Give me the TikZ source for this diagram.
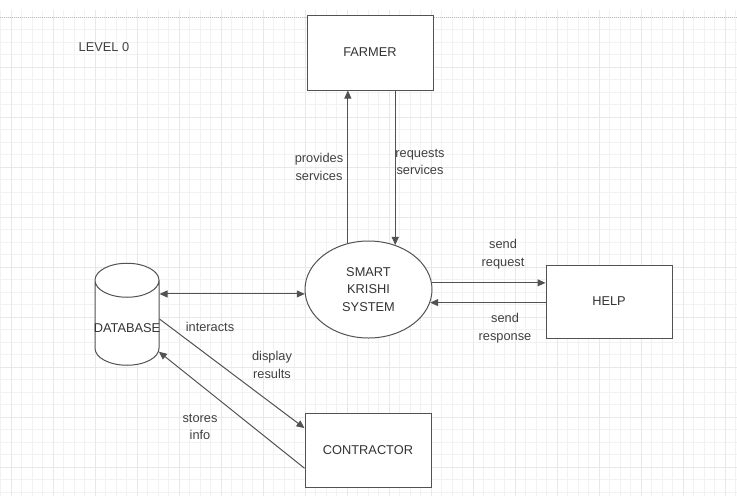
\documentclass[tikz,border=0pt]{standalone}
\usepackage{fontspec}
\setmainfont{Liberation Sans}
\usetikzlibrary{shapes.geometric,arrows.meta}
\tikzset{
	entity/.style={draw=black!68,line width=1pt,fill=white,minimum width=126pt,minimum height=74pt,text=black!80},
	flow/.style={draw=black!68,line width=1pt},
	lbl/.style={align=center,text=black!75,inner sep=0pt},
	>={Triangle[length=8pt,width=7pt]}
}
\begin{document}
\begin{tikzpicture}[x=1pt,y=-1pt,font=\fontsize{12.8}{17.5}\selectfont]
\useasboundingbox (0,0) rectangle (737,496);
\fill[white] (0,0) rectangle (737,496);
\foreach \x in {0,...,70}
	\draw[black!5] (0.5+\x*10.5, 10) -- (0.5+\x*10.5, 496);
\foreach \y in {0,...,38}
	\draw[black!5] (0, 17+\y*12.5) -- (737, 17+\y*12.5);
\foreach \x in {0,...,17}
	\draw[black!9] (11+\x*42, 10) -- (11+\x*42, 496);
\foreach \y in {1,...,9}
	\draw[black!9] (0, 17+\y*50) -- (737, 17+\y*50);
\draw[black!25,densely dotted,line width=1pt] (0,17) -- (737,17);
\node[lbl] (level) at (104,47) {LEVEL 0};
\node[entity,minimum height=75pt] (farmer) at (370,52.5) {FARMER};
\node[ellipse,draw=black!68,line width=1pt,fill=white,minimum width=127pt,minimum height=97pt,align=center,text=black!80] (ks) at (368.5,289.5) {SMART\\KRISHI\\SYSTEM};
\node[entity,minimum height=73pt] (help) at (609,301.5) {HELP};
\node[entity] (contractor) at (368,450) {CONTRACTOR};
\node[cylinder,shape border rotate=90,aspect=0.85,draw=black!68,line width=1pt,fill=white,minimum width=64pt,minimum height=102pt,inner sep=0pt,text=black!80] (db) at (127,323) {\makebox[40pt]{\raisebox{-9pt}[0pt][0pt]{DATABASE}}};
\draw[flow,->] (ks.114) -- (ks.114 |- farmer.south);
\draw[flow,->] (ks.59 |- farmer.south) -- (ks.59);
\draw[flow,<->] (db.east |- ks.184) -- (ks.184);
\draw[flow,->] (db.7) -- (contractor.161);
\draw[flow,->] (contractor.196) -- (db.-42);
\draw[flow,->] (ks.6) -- (ks.6 -| help.west);
\draw[flow,->] (help.west |- ks.-12) -- (ks.-12);
\node[lbl] (provides) at (319,167) {provides\\services};
\node[lbl] (requests) at (420,162) {requests\\services};
\node[lbl] (sendreq) at (503,254) {send\\request};
\node[lbl] (sendresp) at (505,328) {send\\response};
\node[lbl] (interacts) at (210,327) {interacts};
\node[lbl] (display) at (272,365) {display\\results};
\node[lbl] (stores) at (200,427) {stores\\info};
\end{tikzpicture}
\end{document}
